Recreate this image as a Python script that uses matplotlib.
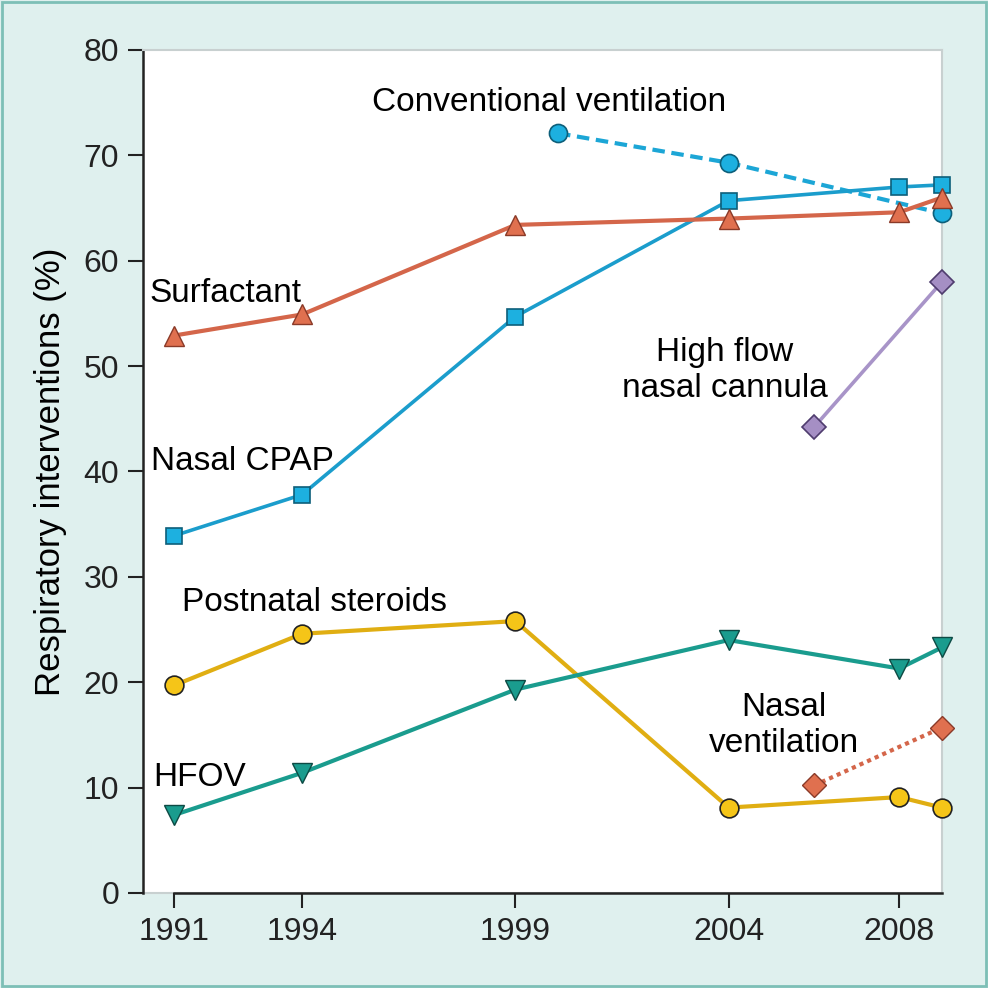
import matplotlib
matplotlib.use('Agg')
import matplotlib.pyplot as plt
from matplotlib.patches import Rectangle

plt.rcParams['font.family'] = ['Liberation Sans', 'DejaVu Sans']

# data
conv_years = [2000, 2004, 2009]
conv_vals = [72.1, 69.3, 64.5]

cpap_years = [1991, 1994, 1999, 2004, 2008, 2009]
cpap_vals = [33.9, 37.8, 54.7, 65.7, 67.0, 67.2]

surf_years = [1991, 1994, 1999, 2004, 2008, 2009]
surf_vals = [52.9, 54.9, 63.4, 64.0, 64.6, 66.0]

hfnc_years = [2006, 2009]
hfnc_vals = [44.2, 58.0]

ster_years = [1991, 1994, 1999, 2004, 2008, 2009]
ster_vals = [19.7, 24.6, 25.8, 8.1, 9.1, 8.1]

hfov_years = [1991, 1994, 1999, 2004, 2008, 2009]
hfov_vals = [7.4, 11.4, 19.3, 24.0, 21.3, 23.3]

nv_years = [2006, 2009]
nv_vals = [10.2, 15.7]

xticks = [1991, 1994, 1999, 2004, 2008]
yticks = [0, 10, 20, 30, 40, 50, 60, 70, 80]

bg = '#dff0ee'
fig = plt.figure(figsize=(9.88, 9.88), dpi=100, facecolor=bg)
fig.patches.append(Rectangle((0.002, 0.002), 0.996, 0.996, transform=fig.transFigure,
                             fill=False, edgecolor='#7dbfb6', linewidth=2))
ax = fig.add_axes([0.1447, 0.0962, 0.8087, 0.8532])

kw = dict(clip_on=False, zorder=3)
ax.plot(conv_years, conv_vals, color='#1ca6d6', lw=3, ls=(0, (3, 1.6)), marker='o', ms=13,
        mfc='#1db0e0', mec='#0d5f7a', mew=1.2, **kw)
ax.plot(cpap_years, cpap_vals, color='#1b9dcc', lw=2.6, marker='s', ms=11,
        mfc='#1db0e0', mec='#0d5f7a', mew=1.2, **kw)
ax.plot(surf_years, surf_vals, color='#d4664a', lw=3, marker='^', ms=15,
        mfc='#e0704f', mec='#8a3a28', mew=1.0, **kw)
ax.plot(hfnc_years, hfnc_vals, color='#a894c8', lw=2.6, marker='D', ms=12,
        mfc='#a58fc4', mec='#4f3c6e', mew=1.2, **kw)
ax.plot(ster_years, ster_vals, color='#e0ae12', lw=3, marker='o', ms=13.5,
        mfc='#f5c518', mec='#222222', mew=1.2, **kw)
ax.plot(hfov_years, hfov_vals, color='#1a9c8e', lw=3, marker='v', ms=15,
        mfc='#1a9c8e', mec='#0d4a44', mew=1.0, **kw)
ax.plot(nv_years, nv_vals, color='#d4664a', lw=3, ls=(0, (1, 1)), marker='D', ms=12,
        mfc='#e0704f', mec='#8a3a28', mew=1.0, **kw)

fs = 24
ax.text(1999.8, 75.0, 'Conventional ventilation', fontsize=fs, ha='center', va='center')
ax.text(1992.2, 56.9, 'Surfactant', fontsize=fs, ha='center', va='center')
ax.text(2003.9, 49.6, 'High flow\nnasal cannula', fontsize=fs, ha='center', va='center',
        linespacing=1.2)
ax.text(1992.6, 40.9, 'Nasal CPAP', fontsize=fs, ha='center', va='center')
ax.text(1994.3, 27.6, 'Postnatal steroids', fontsize=fs, ha='center', va='center')
ax.text(1991.6, 11.0, 'HFOV', fontsize=fs, ha='center', va='center')
ax.text(2005.3, 15.9, 'Nasal\nventilation', fontsize=fs, ha='center', va='center',
        linespacing=1.2)

ax.set_xlim(1990.27, 2009)
ax.set_ylim(0, 80)
ax.set_xticks(xticks)
ax.set_yticks(yticks)
ax.tick_params(labelsize=23, length=11, width=1.5, direction='out', colors='#222222', pad=6)
ax.set_ylabel('Respiratory interventions (%)', fontsize=25, labelpad=12)

for s in ['left', 'bottom']:
    ax.spines[s].set_linewidth(1.8)
    ax.spines[s].set_color('#222222')
ax.spines['bottom'].set_bounds(1991, 2009)
ax.axhline(0, color='#c8d0d0', lw=1.5, zorder=0, clip_on=False)
for s in ['top', 'right']:
    ax.spines[s].set_linewidth(1.5)
    ax.spines[s].set_color('#c8d0d0')

fig.savefig('out.png', dpi=100, facecolor=bg)
